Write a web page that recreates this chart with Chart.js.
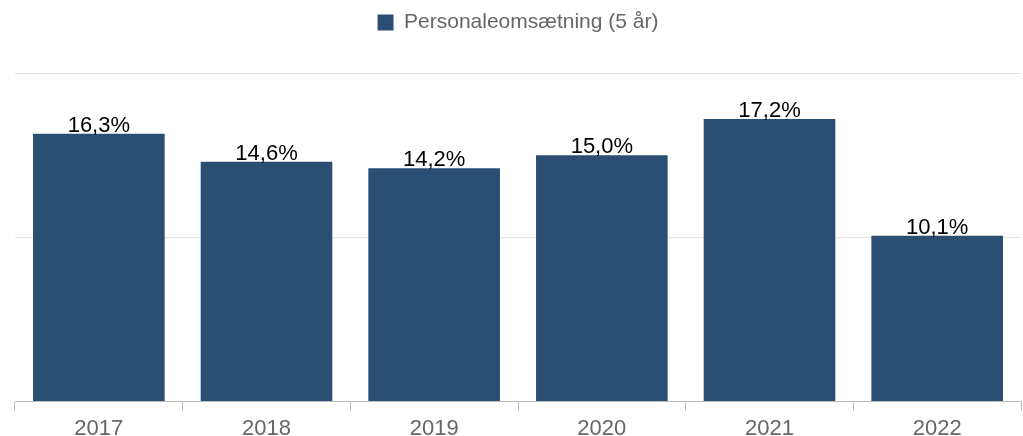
<!DOCTYPE html>
<html>
<head>
<meta charset="utf-8">
<script src="https://cdn.jsdelivr.net/npm/chart.js@4"></script>
<style>
  html, body { margin: 0; padding: 0; background: #fff; }
  #wrap { width: 1023px; height: 436px; }
</style>
</head>
<body>
<div id="wrap"><canvas id="turnover-chart"></canvas></div>
<script>
const years = ["2017", "2018", "2019", "2020", "2021", "2022"]
const turnover = [16.3, 14.6, 14.2, 15.0, 17.2, 10.1]
const seriesName = "Personaleomsætning (5 år)"

// draws the "16,3%" labels above each bar
const barLabels = {
  id: 'barLabels',
  afterDatasetsDraw(chart) {
    const ctx = chart.ctx
    ctx.save()
    ctx.font = '22px "Liberation Sans", Arial, sans-serif'
    ctx.fillStyle = '#000'
    ctx.textAlign = 'center'
    ctx.textBaseline = 'bottom'
    chart.getDatasetMeta(0).data.forEach((bar, i) => {
      const txt = turnover[i].toFixed(1).replace('.', ',') + '%'
      ctx.fillText(txt, bar.x, bar.y + 3)
    })
    ctx.restore()
  }
}

// push the plot down a bit below the legend
const legendSpace = {
  id: 'legendSpace',
  beforeInit(chart) {
    const origFit = chart.legend.fit
    chart.legend.fit = function () {
      origFit.bind(chart.legend)()
      this.height += 30
    }
  }
}

let myChart = new Chart(document.getElementById("turnover-chart"), {
  type: 'bar',
  data: {
    labels: years,
    datasets: [{
      label: seriesName,
      data: turnover,
      backgroundColor: '#2a4f73',
      barPercentage: 1,
      categoryPercentage: 0.785
    }]
  },
  options: {
    responsive: true,
    maintainAspectRatio: false,
    animation: false,
    layout: { padding: { left: 15, right: 2, top: 2, bottom: -11 } },
    plugins: {
      legend: {
        labels: {
          boxWidth: 16,
          boxHeight: 16,
          padding: 10,
          color: '#666',
          font: { size: 21, family: '"Liberation Sans", Arial, sans-serif' }
        }
      },
      tooltip: { enabled: false }
    },
    scales: {
      x: {
        grid: { drawOnChartArea: false, drawTicks: true, tickLength: 9, color: '#bbb' },
        border: { display: true, color: '#bbb' },
        ticks: {
          color: '#666',
          padding: 5,
          font: { size: 22, family: '"Liberation Sans", Arial, sans-serif' }
        }
      },
      y: {
        min: 0,
        max: 20,
        ticks: { display: false, stepSize: 10 },
        border: { display: false },
        grid: { drawTicks: false, color: '#e3e3e3' }
      }
    }
  },
  plugins: [barLabels, legendSpace]
})
</script>
</body>
</html>
